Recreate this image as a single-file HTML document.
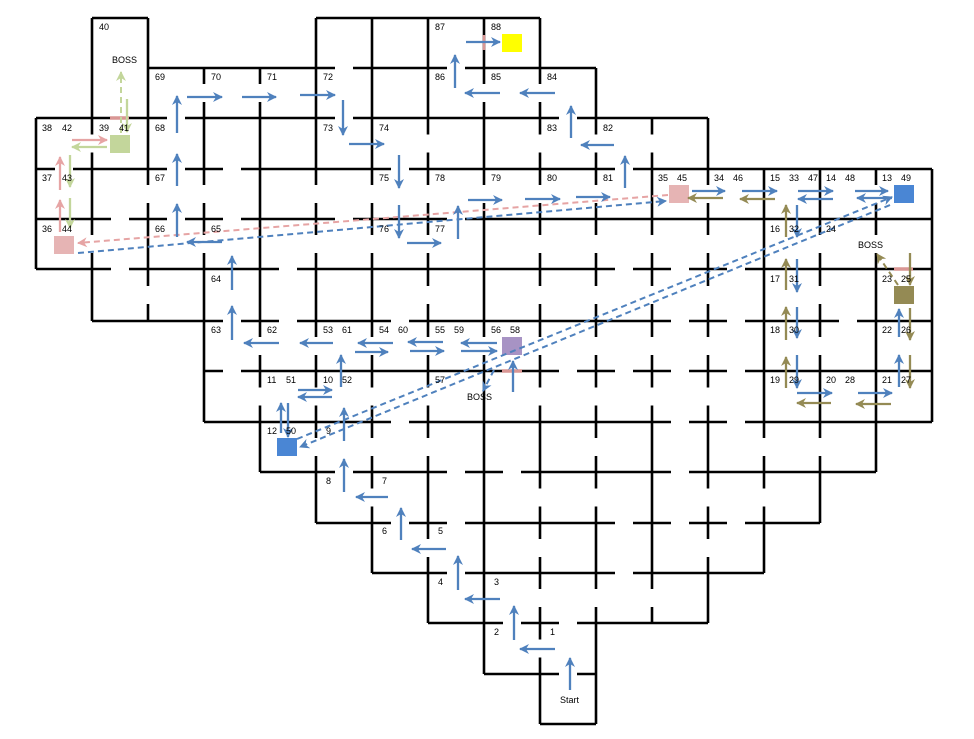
<!DOCTYPE html>
<html><head><meta charset="utf-8">
<style>
html,body{margin:0;padding:0;background:#fff;}
svg{display:block;}
text{font-family:"Liberation Sans",sans-serif;font-size:9px;fill:#000;}
</style></head>
<body>
<svg id="s" width="974" height="739" viewBox="0 0 974 739" xmlns="http://www.w3.org/2000/svg">
<defs>
<marker id="mb" markerWidth="10" markerHeight="10" refX="9" refY="5" orient="auto" markerUnits="userSpaceOnUse"><path d="M0,0 L10,5 L0,10 L3,5 Z" fill="#4f81bd"/></marker>
<marker id="mo" markerWidth="10" markerHeight="10" refX="9" refY="5" orient="auto" markerUnits="userSpaceOnUse"><path d="M0,0 L10,5 L0,10 L3,5 Z" fill="#948a54"/></marker>
<marker id="mp" markerWidth="10" markerHeight="10" refX="9" refY="5" orient="auto" markerUnits="userSpaceOnUse"><path d="M0,0 L10,5 L0,10 L3,5 Z" fill="#e6a4a4"/></marker>
<marker id="mg" markerWidth="10" markerHeight="10" refX="9" refY="5" orient="auto" markerUnits="userSpaceOnUse"><path d="M0,0 L10,5 L0,10 L3,5 Z" fill="#c3d69b"/></marker>
</defs>
<g id="walls" stroke="#000" stroke-width="2.6" fill="none"></g>

<rect x="110" y="135" width="20" height="18" fill="#c3d69b"/>
<rect x="54" y="236" width="20" height="18" fill="#e6b4b4"/>
<rect x="669" y="185" width="20" height="18" fill="#e6b4b4"/>
<rect x="894" y="185" width="20" height="18" fill="#4a86d4"/>
<rect x="894" y="286" width="20" height="18" fill="#948a54"/>
<rect x="502" y="337" width="20" height="18" fill="#a793c4"/>
<rect x="502" y="34" width="20" height="18" fill="#ffff00"/>
<rect x="277" y="438" width="20" height="18" fill="#4a86d4"/>

<g stroke="#d99694" stroke-width="3.5">
<line x1="110" y1="118" x2="129" y2="118"/>
<line x1="894" y1="269" x2="913" y2="269"/>
<line x1="502" y1="371" x2="522" y2="371"/>
<line x1="484" y1="35" x2="484" y2="50" stroke-width="2.5"/>
</g>

<g fill="none" stroke-width="2" stroke-dasharray="6,4">
<line x1="668" y1="195" x2="78" y2="243" stroke="#e6a4a4" marker-end="url(#mp)"/>
<line x1="78" y1="253" x2="666" y2="201" stroke="#4f81bd" marker-end="url(#mb)"/>
<line x1="297" y1="439" x2="892" y2="197" stroke="#4f81bd" marker-end="url(#mb)"/>
<line x1="890" y1="205" x2="300" y2="447" stroke="#4f81bd" marker-end="url(#mb)"/>
<line x1="121" y1="133" x2="121" y2="72" stroke="#c3d69b" marker-end="url(#mg)"/>
<line x1="898" y1="285" x2="877" y2="254" stroke="#948a54" marker-end="url(#mo)"/>
<line x1="494" y1="370" x2="483" y2="391" stroke="#4f81bd" marker-end="url(#mb)"/>
</g>

<g stroke="#4f81bd" stroke-width="2.3" marker-end="url(#mb)" fill="none">
<line x1="570" y1="690" x2="570" y2="658"/>
<line x1="555" y1="649" x2="520" y2="649"/>
<line x1="514" y1="640" x2="514" y2="606"/>
<line x1="500" y1="599" x2="465" y2="599"/>
<line x1="458" y1="590" x2="458" y2="556"/>
<line x1="446" y1="549" x2="412" y2="549"/>
<line x1="401" y1="540" x2="401" y2="508"/>
<line x1="388" y1="497" x2="356" y2="497"/>
<line x1="344" y1="492" x2="344" y2="459"/>
<line x1="344" y1="441" x2="344" y2="408"/>
<line x1="341" y1="387" x2="341" y2="355"/>
<line x1="333" y1="343" x2="300" y2="343"/>
<line x1="279" y1="343" x2="244" y2="343"/>
<line x1="232" y1="340" x2="232" y2="306"/>
<line x1="232" y1="290" x2="232" y2="256"/>
<line x1="222" y1="242" x2="187" y2="242"/>
<line x1="177" y1="237" x2="177" y2="204"/>
<line x1="177" y1="186" x2="177" y2="154"/>
<line x1="177" y1="133" x2="177" y2="96"/>
<line x1="187" y1="97" x2="222" y2="97"/>
<line x1="242" y1="97" x2="276" y2="97"/>
<line x1="300" y1="95" x2="335" y2="95"/>
<line x1="343" y1="100" x2="343" y2="135"/>
<line x1="349" y1="144" x2="384" y2="144"/>
<line x1="399" y1="155" x2="399" y2="188"/>
<line x1="399" y1="205" x2="399" y2="238"/>
<line x1="407" y1="243" x2="441" y2="243"/>
<line x1="458" y1="239" x2="458" y2="206"/>
<line x1="468" y1="200" x2="502" y2="200"/>
<line x1="525" y1="199" x2="560" y2="199"/>
<line x1="576" y1="197" x2="610" y2="197"/>
<line x1="625" y1="188" x2="625" y2="156"/>
<line x1="614" y1="145" x2="581" y2="145"/>
<line x1="571" y1="138" x2="571" y2="106"/>
<line x1="555" y1="93" x2="520" y2="93"/>
<line x1="500" y1="93" x2="465" y2="93"/>
<line x1="455" y1="88" x2="455" y2="55"/>
<line x1="466" y1="42" x2="500" y2="42"/>
<line x1="393" y1="343" x2="358" y2="343"/>
<line x1="355" y1="352" x2="388" y2="352"/>
<line x1="443" y1="342" x2="408" y2="342"/>
<line x1="410" y1="351" x2="444" y2="351"/>
<line x1="497" y1="343" x2="461" y2="343"/>
<line x1="461" y1="351" x2="497" y2="351"/>
<line x1="513" y1="392" x2="513" y2="361"/>
<line x1="298" y1="390" x2="332" y2="390"/>
<line x1="332" y1="397" x2="298" y2="397"/>
<line x1="281" y1="433" x2="281" y2="403"/>
<line x1="288" y1="403" x2="288" y2="437"/>
<line x1="692" y1="191" x2="725" y2="191"/>
<line x1="742" y1="191" x2="777" y2="191"/>
<line x1="798" y1="191" x2="833" y2="191"/>
<line x1="855" y1="191" x2="888" y2="191"/>
<line x1="833" y1="199" x2="798" y2="199"/>
<line x1="892" y1="198" x2="857" y2="198"/>
<line x1="797" y1="205" x2="797" y2="237"/>
<line x1="797" y1="259" x2="797" y2="292"/>
<line x1="797" y1="307" x2="797" y2="338"/>
<line x1="797" y1="355" x2="797" y2="388"/>
<line x1="797" y1="393" x2="832" y2="393"/>
<line x1="858" y1="393" x2="892" y2="393"/>
<line x1="899" y1="387" x2="899" y2="355"/>
<line x1="899" y1="337" x2="899" y2="309"/>
</g>
<g stroke="#948a54" stroke-width="2.3" marker-end="url(#mo)" fill="none">
<line x1="723" y1="198" x2="688" y2="198"/>
<line x1="775" y1="199" x2="740" y2="199"/>
<line x1="786" y1="237" x2="786" y2="205"/>
<line x1="786" y1="290" x2="786" y2="259"/>
<line x1="786" y1="340" x2="786" y2="307"/>
<line x1="786" y1="388" x2="786" y2="357"/>
<line x1="831" y1="403" x2="797" y2="403"/>
<line x1="891" y1="404" x2="856" y2="404"/>
<line x1="910" y1="355" x2="910" y2="388"/>
<line x1="910" y1="308" x2="910" y2="340"/>
<line x1="910" y1="253" x2="910" y2="285"/>
</g>
<g stroke="#e6a4a4" stroke-width="2.3" marker-end="url(#mp)">
<line x1="72" y1="140" x2="107" y2="140"/>
<line x1="60" y1="190" x2="60" y2="157"/>
<line x1="60" y1="232" x2="60" y2="200"/>
</g>
<g stroke="#c3d69b" stroke-width="2.3" marker-end="url(#mg)">
<line x1="107" y1="147" x2="72" y2="147"/>
<line x1="70" y1="155" x2="70" y2="187"/>
<line x1="70" y1="198" x2="70" y2="228"/>
<line x1="127" y1="99" x2="127" y2="132"/>
</g>

<g>
<text x="99" y="30">40</text><text x="112" y="63">BOSS</text>
<text x="435" y="30">87</text><text x="491" y="30">88</text>
<text x="155" y="80">69</text><text x="211" y="80">70</text><text x="267" y="80">71</text><text x="323" y="80">72</text>
<text x="435" y="80">86</text><text x="491" y="80">85</text><text x="547" y="80">84</text>
<text x="42" y="131">38</text><text x="62" y="131">42</text><text x="99" y="131">39</text><text x="119" y="131">41</text>
<text x="155" y="131">68</text><text x="323" y="131">73</text><text x="379" y="131">74</text><text x="547" y="131">83</text><text x="603" y="131">82</text>
<text x="42" y="181">37</text><text x="62" y="181">43</text><text x="155" y="181">67</text><text x="379" y="181">75</text><text x="435" y="181">78</text>
<text x="491" y="181">79</text><text x="547" y="181">80</text><text x="603" y="181">81</text>
<text x="658" y="181">35</text><text x="677" y="181">45</text><text x="714" y="181">34</text><text x="733" y="181">46</text>
<text x="770" y="181">15</text><text x="789" y="181">33</text><text x="808" y="181">47</text><text x="826" y="181">14</text><text x="845" y="181">48</text>
<text x="882" y="181">13</text><text x="901" y="181">49</text>
<text x="42" y="232">36</text><text x="62" y="232">44</text><text x="155" y="232">66</text><text x="211" y="232">65</text>
<text x="379" y="232">76</text><text x="435" y="232">77</text><text x="770" y="232">16</text><text x="789" y="232">32</text><text x="826" y="232">24</text>
<text x="211" y="282">64</text><text x="770" y="282">17</text><text x="789" y="282">31</text><text x="858" y="248">BOSS</text>
<text x="882" y="282">23</text><text x="901" y="282">25</text>
<text x="211" y="333">63</text><text x="267" y="333">62</text><text x="323" y="333">53</text><text x="342" y="333">61</text>
<text x="379" y="333">54</text><text x="398" y="333">60</text><text x="435" y="333">55</text><text x="454" y="333">59</text>
<text x="491" y="333">56</text><text x="510" y="333">58</text><text x="770" y="333">18</text><text x="789" y="333">30</text>
<text x="882" y="333">22</text><text x="901" y="333">26</text>
<text x="267" y="383">11</text><text x="286" y="383">51</text><text x="323" y="383">10</text><text x="342" y="383">52</text>
<text x="435" y="383">57</text><text x="467" y="400">BOSS</text>
<text x="770" y="383">19</text><text x="789" y="383">29</text><text x="826" y="383">20</text><text x="845" y="383">28</text>
<text x="882" y="383">21</text><text x="901" y="383">27</text>
<text x="267" y="434">12</text><text x="286" y="434">50</text><text x="326" y="434">9</text>
<text x="326" y="484">8</text><text x="382" y="484">7</text>
<text x="382" y="534">6</text><text x="438" y="534">5</text>
<text x="438" y="585">4</text><text x="494" y="585">3</text>
<text x="494" y="635">2</text><text x="550" y="635">1</text>
<text x="560" y="703">Start</text>
</g>
</svg>
<script>
(function(){
var Y=[18,68,118,169,219,269,321,371,422,472,523,573,623,674,724];
function X(i){return 36+56*i;}
var rows={0:[1,5,6,7,8],1:[1,2,3,4,5,6,7,8,9]};
function rng(a,b){var r=[];for(var i=a;i<=b;i++)r.push(i);return r;}
rows[2]=rng(0,11);rows[3]=rng(0,15);rows[4]=rng(0,15);rows[5]=rng(1,15);
rows[6]=rng(3,15);rows[7]=rng(3,15);rows[8]=rng(4,14);rows[9]=rng(5,13);
rows[10]=rng(6,12);rows[11]=rng(7,11);rows[12]=rng(8,9);rows[13]=[9];
function occ(r,c){return rows[r]?rows[r].indexOf(c)>=0:false;}
var fullH={};
("1:6 1:8 2:1 2:3 2:4 2:6 2:7 2:8 3:1 3:4 3:5 3:7 3:8 3:9 3:11 4:0 4:4 4:6 4:8 4:9 4:10 4:11 4:12 4:13 4:14 4:15 "+
"5:2 5:3 5:5 5:6 5:7 5:8 5:9 5:13 5:14 5:15 6:5 6:7 6:8 6:9 6:10 6:13 6:15 7:4 7:5 7:6 7:7 7:8 7:13 7:14 7:15 "+
"8:4 8:5 8:7 8:8 8:9 8:10 8:13 8:14 9:6 9:9 9:10 9:12 9:13 10:8 10:9 11:8 11:9 11:11").split(" ").forEach(function(k){fullH[k]=1;});
var fullV={};
("2:1 2:2 2:4 1:3 3:2 3:5 3:6 3:7 4:2 4:3 4:4 4:5 5:1 5:2 5:5 6:0 6:1 6:2 6:5 7:0 7:1 7:9 "+
"8:0 8:2 8:4 8:5 8:7 8:8 8:9 8:10 8:11 9:0 9:8 10:10 11:3 11:8 11:9 11:10 12:8 13:3 13:4 13:5 13:6 13:7 14:3 14:7 15:5 15:6 15:7").split(" ").forEach(function(k){fullV[k]=1;});
var g=document.getElementById('walls'),ns='http://www.w3.org/2000/svg';
function ln(x1,y1,x2,y2){var e=document.createElementNS(ns,'line');e.setAttribute('x1',x1);e.setAttribute('y1',y1);e.setAttribute('x2',x2);e.setAttribute('y2',y2);g.appendChild(e);}
function edge(x1,y1,x2,y2,full){
 if(full){ln(x1,y1,x2,y2);return;}
 var mx=(x1+x2)/2,my=(y1+y2)/2;
 if(y1==y2){ln(x1,y1,mx-9,y1);ln(mx+9,y1,x2,y2);}else{ln(x1,y1,x1,my-9);ln(x1,my+9,x2,y2);}
}
for(var j=0;j<=14;j++){for(var c=0;c<=15;c++){
 var a=occ(j-1,c),b=occ(j,c);if(!a&&!b)continue;
 if(j==1&&c==1)continue;
 edge(X(c),Y[j],X(c+1),Y[j],a!=b||fullH[j+":"+c]);
}}
for(var i=0;i<=16;i++){for(var r=0;r<=13;r++){
 var a2=occ(r,i-1),b2=occ(r,i);if(!a2&&!b2)continue;
 edge(X(i),Y[r],X(i),Y[r+1],a2!=b2||fullV[i+":"+r]);
}}
})();
</script>
</body></html>
